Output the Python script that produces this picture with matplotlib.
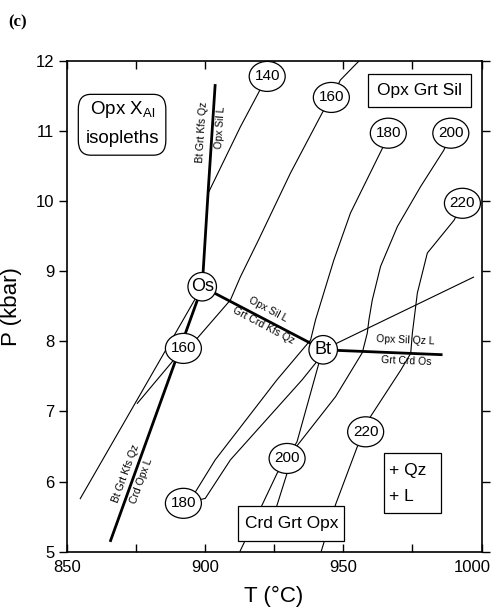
import matplotlib
matplotlib.use("Agg")
import matplotlib.pyplot as plt
from matplotlib.patches import FancyBboxPatch, Rectangle, Ellipse
from matplotlib.transforms import ScaledTranslation

plt.rcParams['font.family'] = ['Liberation Sans', 'DejaVu Sans']
plt.rcParams['mathtext.fontset'] = 'custom'
plt.rcParams['mathtext.rm'] = 'Liberation Sans'
plt.rcParams['mathtext.it'] = 'Liberation Sans'

# ---- axis ticks ----
x_ticks = [850, 900, 950, 1000]
x_minor = [875, 925, 975]
y_ticks = [5, 6, 7, 8, 9, 10, 11, 12]

# ---- invariant points ----
inv_names = ["Os", "Bt"]
inv_T = [899.0, 942.75]
inv_P = [8.78, 7.88]

# ---- univariant reactions (bold lines) ----
rxn_up_T = [899.0, 901.1, 903.7]
rxn_up_P = [8.78, 10.11, 11.67]
rxn_low_T = [899.0, 865.7]
rxn_low_P = [8.78, 5.14]
rxn_mid_T = [899.0, 942.75]
rxn_mid_P = [8.78, 7.88]
rxn_right_T = [942.75, 985.9]
rxn_right_P = [7.88, 7.81]

# ---- Opx X_Al isopleths (thin lines) ----
iso140_T = [901.1, 912.8, 922.5]
iso140_P = [10.11, 11.06, 11.78]
iso160_T = [955.7, 949.0, 945.7, 942.4, 930.9, 919.4, 912.8, 909.2, 897.1, 892.2, 875.4]
iso160_P = [12.0, 11.73, 11.48, 11.26, 10.40, 9.45, 8.92, 8.59, 8.04, 7.90, 7.11]
iso180_T = [966.3, 964.1, 952.6, 946.6, 940.0, 938.2, 926.0, 903.7, 896.5, 892.2]
iso180_P = [10.97, 10.75, 9.83, 9.16, 8.31, 8.02, 7.45, 6.31, 5.85, 5.69]
iso200_T = [988.9, 986.4, 978.0, 969.6, 963.5, 960.5, 959.3, 958.7, 956.9, 947.2, 929.7]
iso200_P = [10.97, 10.73, 10.21, 9.64, 9.07, 8.59, 8.31, 8.12, 7.84, 7.21, 6.33]
iso200a_T = [929.7, 926.1, 920.7, 912.6]
iso200a_P = [6.33, 6.12, 5.67, 5.0]
iso200b_T = [929.7, 929.7, 926.1, 924.0]
iso200b_P = [6.33, 6.12, 5.67, 5.4]
iso220_T = [993.1, 990.1, 980.4, 976.8, 975.6, 975.0, 974.4, 970.8, 959.9, 958.1, 955.1, 947.2, 942.0]
iso220_P = [9.97, 9.73, 9.26, 8.69, 8.31, 8.12, 7.83, 7.59, 6.93, 6.71, 6.50, 5.67, 5.0]
bt180_T = [942.75, 940.0, 935.1, 909.2, 900.1, 892.2]
bt180_P = [7.88, 7.69, 7.45, 6.31, 5.76, 5.69]
bt200_T = [942.75, 941.2, 933.3, 929.7]
bt200_P = [7.88, 7.69, 6.57, 6.33]
bt_ext_T = [942.75, 997.3]
bt_ext_P = [7.88, 8.92]
os_ext_T = [899.0, 854.8]
os_ext_P = [8.78, 5.75]

# ---- isopleth labels ----
lab_up_vals = [140, 160, 180, 200, 220]
lab_up_T = [922.5, 945.7, 966.3, 988.9, 993.1]
lab_up_P = [11.78, 11.48, 10.97, 10.97, 9.97]
lab_low_vals = [160, 180, 200, 220]
lab_low_T = [892.2, 892.2, 929.7, 958.1]
lab_low_P = [7.90, 5.69, 6.33, 6.71]

fig = plt.figure(figsize=(4.93, 6.16), dpi=100)
ax = fig.add_axes([0.1353, 0.1044, 0.8414, 0.7966])
ax.set_xlim(850, 1000)
ax.set_ylim(5, 12)

thin = dict(color='black', lw=0.8, zorder=2, solid_capstyle='butt')
bold = dict(color='black', lw=2.0, zorder=3, solid_capstyle='butt')

for T, P in [(iso140_T, iso140_P), (iso160_T, iso160_P), (iso180_T, iso180_P),
             (iso200_T, iso200_P), (iso200a_T, iso200a_P), (iso200b_T, iso200b_P),
             (iso220_T, iso220_P), (bt180_T, bt180_P), (bt200_T, bt200_P),
             (bt_ext_T, bt_ext_P), (os_ext_T, os_ext_P)]:
    ax.plot(T, P, **thin)

for T, P in [(rxn_up_T, rxn_up_P), (rxn_low_T, rxn_low_P),
             (rxn_mid_T, rxn_mid_P), (rxn_right_T, rxn_right_P)]:
    ax.plot(T, P, **bold)


def marker_ellipse(T, P, w_in, h_in, z):
    """White ellipse of fixed size (inches) centred on a data point."""
    tr = fig.dpi_scale_trans + ScaledTranslation(T, P, ax.transData)
    e = Ellipse((0, 0), w_in, h_in, transform=tr, fc='white', ec='black',
                lw=0.9, zorder=z, clip_on=False)
    ax.add_artist(e)


# isopleth value labels in ellipses
for v, T, P in zip(lab_up_vals + lab_low_vals, lab_up_T + lab_low_T, lab_up_P + lab_low_P):
    marker_ellipse(T, P, 0.36, 0.30, 5)
    ax.text(T, P, str(v), fontsize=11, ha='center', va='center', zorder=6)

# invariant points
for n, T, P in zip(inv_names, inv_T, inv_P):
    marker_ellipse(T, P, 0.285, 0.285, 7)
    ax.text(T, P, n, fontsize=13, ha='center', va='center', zorder=8)

# reaction labels
rl = dict(fontsize=7.5, ha='center', va='center', zorder=4)
ax.text(898.8, 10.99, "Bt Grt Kfs Qz", rotation=86.3, **rl)
ax.text(905.4, 11.05, "Opx Sil L", rotation=86.3, **rl)
ax.text(922.75, 8.46, "Opx Sil L", rotation=-27.9, **rl)
ax.text(921.1, 8.22, "Grt Crd Kfs Qz", rotation=-27.9, **rl)
ax.text(972.6, 8.01, "Opx Sil Qz L", rotation=-2.4, **rl)
ax.text(972.9, 7.72, "Grt Crd Os", rotation=-2.4, **rl)
ax.text(871.5, 6.11, "Bt Grt Kfs Qz", rotation=69.9, **rl)
ax.text(876.9, 6.01, "Crd Opx L", rotation=69.9, **rl)

# field boxes
box = dict(transform=ax.transAxes, fc='white', ec='black', lw=0.9, zorder=9)
txt = dict(transform=ax.transAxes, fontsize=12.5, zorder=10)

ax.add_patch(Rectangle((0.7271, 0.9069), 0.2476, 0.0666, **box))
ax.text(0.851, 0.940, "Opx Grt Sil", ha='center', va='center', **txt)

ax.add_patch(Rectangle((0.4137, 0.0224), 0.2556, 0.0707, **box))
ax.text(0.5415, 0.058, "Crd Grt Opx", ha='center', va='center', **txt)

ax.add_patch(Rectangle((0.765, 0.0783), 0.1374, 0.1235, **box))
ax.text(0.776, 0.166, "+ Qz", ha='left', va='center', **txt)
ax.text(0.776, 0.112, "+ L", ha='left', va='center', **txt)

ax.add_patch(FancyBboxPatch((0.028, 0.808), 0.211, 0.124, transform=ax.transAxes,
                            boxstyle='round,pad=0.0,rounding_size=0.03',
                            fc='white', ec='black', lw=0.9, zorder=9))
ax.text(0.1335, 0.902, r"Opx X$_{\mathrm{Al}}$", ha='center', va='center',
        transform=ax.transAxes, fontsize=13.5, zorder=10)
ax.text(0.1335, 0.843, "isopleths", ha='center', va='center',
        transform=ax.transAxes, fontsize=13.5, zorder=10)

# axes styling
ax.set_xticks(x_ticks)
ax.set_xticks(x_minor, minor=True)
ax.set_yticks(y_ticks)
ax.tick_params(axis='x', which='both', direction='in', top=True, bottom=True,
               length=6, width=1.0, labelsize=12, pad=6)
ax.tick_params(axis='y', which='both', direction='out', left=True, right=True,
               length=6, width=1.0, labelsize=12, pad=3)
for s in ax.spines.values():
    s.set_linewidth(1.2)

# keep the last x tick label inside the figure
last = ax.get_xticklabels()[-1]
last.set_transform(last.get_transform() + ScaledTranslation(-7 / 72, 0, fig.dpi_scale_trans))

ax.set_xlabel("T (°C)", fontsize=16, labelpad=8)
ax.set_ylabel("P (kbar)", fontsize=16, labelpad=10)

fig.text(0.0365, 0.963, "(c)", fontsize=12, fontweight='bold',
         family='Liberation Serif', ha='center', va='center')

fig.savefig("out.png", dpi=100)
